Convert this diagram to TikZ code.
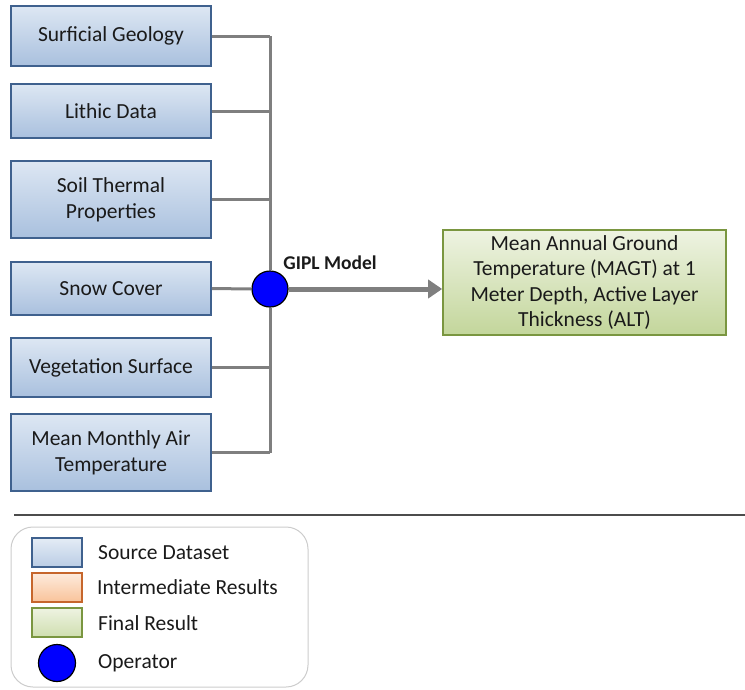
\documentclass[tikz,border=0pt]{standalone}
\usepackage{fontspec}
\setmainfont{Carlito}
\usetikzlibrary{arrows.meta}
\definecolor{srcline}{HTML}{3F618E}
\definecolor{srctop}{HTML}{DDE7F3}
\definecolor{srcbot}{HTML}{A9C0DE}
\definecolor{midline}{HTML}{C6662C}
\definecolor{midtop}{HTML}{FDEBDD}
\definecolor{midbot}{HTML}{F9C39A}
\definecolor{resline}{HTML}{7A9640}
\definecolor{restop}{HTML}{EEF3E2}
\definecolor{resbot}{HTML}{C3D69B}
\definecolor{busgray}{HTML}{7F7F7F}
\definecolor{txt}{HTML}{1A1A1A}
\begin{document}
\begin{tikzpicture}[x=1pt,y=-1pt,
    txtfont/.style={font=\fontsize{21.5}{26}\selectfont,text=txt},
    source/.style={draw=srcline,line width=1.6pt,top color=srctop,bottom color=srcbot,
      minimum width=200pt,inner sep=0pt,align=center,txtfont},
    result/.style={draw=resline,line width=1.6pt,top color=restop,bottom color=resbot,
      minimum width=283pt,minimum height=105pt,inner sep=0pt,align=center,
      font=\fontsize{21.5}{25.5}\selectfont,text=txt},
    operator/.style={circle,draw=black,line width=1.2pt,fill=blue,minimum size=36pt,inner sep=0pt},
    bus/.style={draw=busgray,line width=3pt},
    flow/.style={draw=busgray,line width=5pt,-{Triangle[length=14pt,width=18pt]}},
    swatch/.style={line width=1.6pt,minimum width=50pt,minimum height=29pt,inner sep=0pt},
    legtext/.style={anchor=west,txtfont,inner sep=0pt}]
\useasboundingbox (0,0) rectangle (745,689);

% source datasets
\node[source,minimum height=60pt] (geology) at (111,36) {Surficial Geology};
\node[source,minimum height=54pt] (lithic) at (111,111) {Lithic Data};
\node[source,minimum height=77pt] (thermal) at (111,199.5) {Soil Thermal\\Properties};
\node[source,minimum height=53pt] (snow) at (111,288.5) {Snow Cover};
\node[source,minimum height=59pt] (vegetation) at (111,367.5) {Vegetation Surface};
\node[source,minimum height=77pt] (airtemp) at (111,452.5) {Mean Monthly Air\\Temperature};

% operator and result
\node[operator] (gipl) at (270,289) {};
\node[font=\fontsize{19.5}{23}\bfseries,text=txt] (giplname) at (330,263) {GIPL Model};
\node[result] (magt) at (584.5,282.5) {Mean Annual Ground\\Temperature (MAGT) at 1\\Meter Depth, Active Layer\\Thickness (ALT)};

\foreach \n in {geology,lithic,thermal,vegetation,airtemp}
  \draw[bus] (\n.east) -- (\n.east -| gipl);
\draw[bus] (snow.east) -- (gipl.west);
\draw[bus] (geology.east -| gipl) -- (gipl.north);
\draw[bus] (gipl.south) -- (airtemp.east -| gipl);
\draw[flow] (gipl.east) -- (gipl.east -| magt.west);

% legend
\draw[line width=2pt,draw=black!70] (14,515) -- (745,515);
\draw[draw=black!20,line width=1pt,rounded corners=22pt] (11,527) rectangle (308,687);
\node[swatch,draw=srcline,top color=srctop!80!white,bottom color=srcbot!80!white] (keysrc) at (57,552.5) {};
\node[swatch,draw=midline,top color=midtop,bottom color=midbot] (keymid) at (57,587.5) {};
\node[swatch,draw=resline,top color=restop,bottom color=resbot!80!white] (keyres) at (57,622.5) {};
\node[operator,minimum size=37pt] (keyop) at (57,663) {};
\node[legtext] (lsrc) at (98,553) {Source Dataset};
\node[legtext] (lmid) at (97,587) {Intermediate Results};
\node[legtext] (lres) at (98,623) {Final Result};
\node[legtext] (lop) at (98,663) {Operator};
\end{tikzpicture}
\end{document}
